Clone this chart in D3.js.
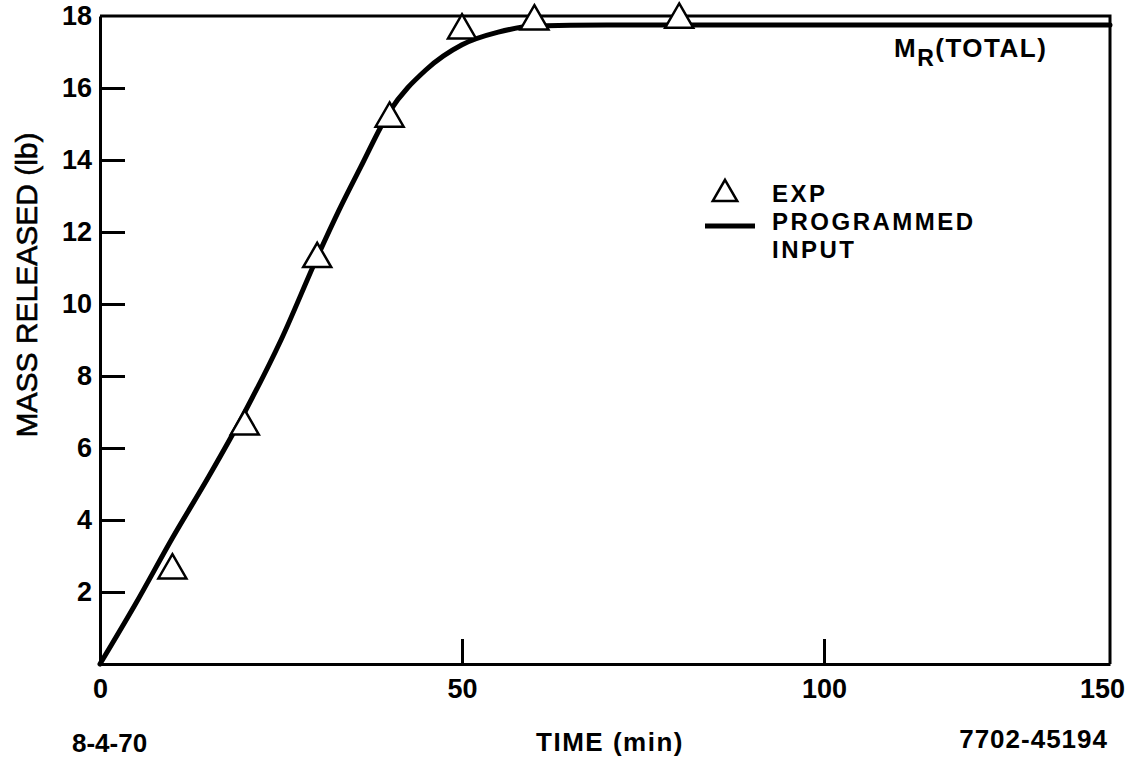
<!DOCTYPE html>
<html>
<head>
<meta charset="utf-8">
<script src="https://cdn.jsdelivr.net/npm/d3@7"></script>
<style>
  body { margin: 0; background: #fff; }
  svg { font-family: "Liberation Sans", Arial, sans-serif; }
  .axis path, .axis line { stroke: #000; stroke-width: 3; }
  .axis text { font-size: 27px; font-weight: bold; fill: #000; }
</style>
</head>
<body>
<svg id="svg1" width="1132" height="759"></svg>
<script>
// experimental points (triangles)
var expTime = [10, 20, 30, 40, 50, 60, 80];
var expMass = [2.6, 6.6, 11.25, 15.15, 17.6, 17.85, 17.9];

// programmed input curve
var progTime = [0, 5, 10, 15, 20, 25, 30, 33, 36, 40, 45, 50, 55, 60, 70, 100, 150];
var progMass = [0, 1.7, 3.5, 5.2, 7.0, 9.0, 11.3, 12.6, 13.8, 15.35, 16.5, 17.2, 17.55, 17.72, 17.75, 17.75, 17.75];

var xTicks = [0, 50, 100, 150];
var yTicks = [2, 4, 6, 8, 10, 12, 14, 16, 18];

var svg = d3.select("#svg1");

// the drawn axis squeezes 100-150 into a shorter span, so the scale is piecewise
var x = d3.scaleLinear().domain([0, 100, 150]).range([100, 824, 1110]);
var y = d3.scaleLinear().domain([0, 18]).range([664, 16]);

// frame (top and right)
svg.append("path")
    .attr("d", "M" + x(0) + "," + y(18) + "H" + x(150) + "V" + y(0))
    .attr("fill", "none")
    .attr("stroke", "#000")
    .attr("stroke-width", 3);

var xAxis = svg.append("g")
    .attr("class", "axis")
    .attr("transform", "translate(0," + y(0) + ")")
    .call(d3.axisBottom(x).tickValues(xTicks).tickSizeInner(-25).tickSizeOuter(0).tickPadding(15));
xAxis.selectAll(".tick line").filter(function(d) { return d == 0 || d == 150; }).remove();
xAxis.selectAll(".tick text").filter(function(d) { return d == 150; }).attr("dx", "-8");

var yAxis = svg.append("g")
    .attr("class", "axis")
    .attr("transform", "translate(" + x(0) + ",0)")
    .call(d3.axisLeft(y).tickValues(yTicks).tickSizeInner(-25).tickSizeOuter(0).tickPadding(8));
yAxis.selectAll(".tick line").filter(function(d) { return d == 18; }).remove();

// programmed input line
var line = d3.line()
    .x(function(d, i) { return x(progTime[i]); })
    .y(function(d) { return y(d); })
    .curve(d3.curveMonotoneX);

svg.append("path")
    .datum(progMass)
    .attr("d", line)
    .attr("fill", "none")
    .attr("stroke", "#000")
    .attr("stroke-width", 5)
    .attr("stroke-linecap", "round");

// triangles
var tri = d3.symbol().type(d3.symbolTriangle).size(340);
svg.selectAll(".exp")
    .data(expMass)
  .enter().append("path")
    .attr("class", "exp")
    .attr("d", tri)
    .attr("transform", function(d, i) { return "translate(" + x(expTime[i]) + "," + y(d) + ")"; })
    .attr("fill", "#fff")
    .attr("stroke", "#000")
    .attr("stroke-width", 2.5);

// M_R(TOTAL) label
var mr = svg.append("text")
    .attr("x", 894)
    .attr("y", 57)
    .attr("font-size", 26)
    .attr("font-weight", "bold")
    .attr("letter-spacing", 1.5);
mr.append("tspan").text("M");
mr.append("tspan").attr("dy", 9).attr("font-size", 23).text("R");
mr.append("tspan").attr("dy", -9).text("(TOTAL)");

// legend
svg.append("path")
    .attr("d", d3.symbol().type(d3.symbolTriangle).size(260))
    .attr("transform", "translate(725,194)")
    .attr("fill", "#fff")
    .attr("stroke", "#000")
    .attr("stroke-width", 2.5);
svg.append("line")
    .attr("x1", 705).attr("x2", 755)
    .attr("y1", 226).attr("y2", 226)
    .attr("stroke", "#000")
    .attr("stroke-width", 5);

var legendText = ["EXP", "PROGRAMMED", "INPUT"];
svg.selectAll(".legend-text")
    .data(legendText)
  .enter().append("text")
    .attr("class", "legend-text")
    .attr("x", 772)
    .attr("y", function(d, i) { return 202 + i * 28; })
    .attr("font-size", 24)
    .attr("font-weight", "bold")
    .attr("letter-spacing", 2.5)
    .text(function(d) { return d; });

// axis titles
svg.append("text")
    .attr("transform", "translate(37,285) rotate(-90)")
    .attr("text-anchor", "middle")
    .attr("font-size", 30)
    .attr("stroke", "#000")
    .attr("stroke-width", 0.6)
    .text("MASS RELEASED (lb)");

svg.append("text")
    .attr("x", 610)
    .attr("y", 751)
    .attr("text-anchor", "middle")
    .attr("font-size", 26)
    .attr("font-weight", "bold")
    .attr("letter-spacing", 1.5)
    .text("TIME (min)");

svg.append("text")
    .attr("x", 72)
    .attr("y", 752)
    .attr("font-size", 26)
    .attr("font-weight", "bold")
    .text("8-4-70");

svg.append("text")
    .attr("x", 1108)
    .attr("y", 748)
    .attr("text-anchor", "end")
    .attr("font-size", 26)
    .attr("font-weight", "bold")
    .attr("letter-spacing", 1)
    .text("7702-45194");
</script>
</body>
</html>
